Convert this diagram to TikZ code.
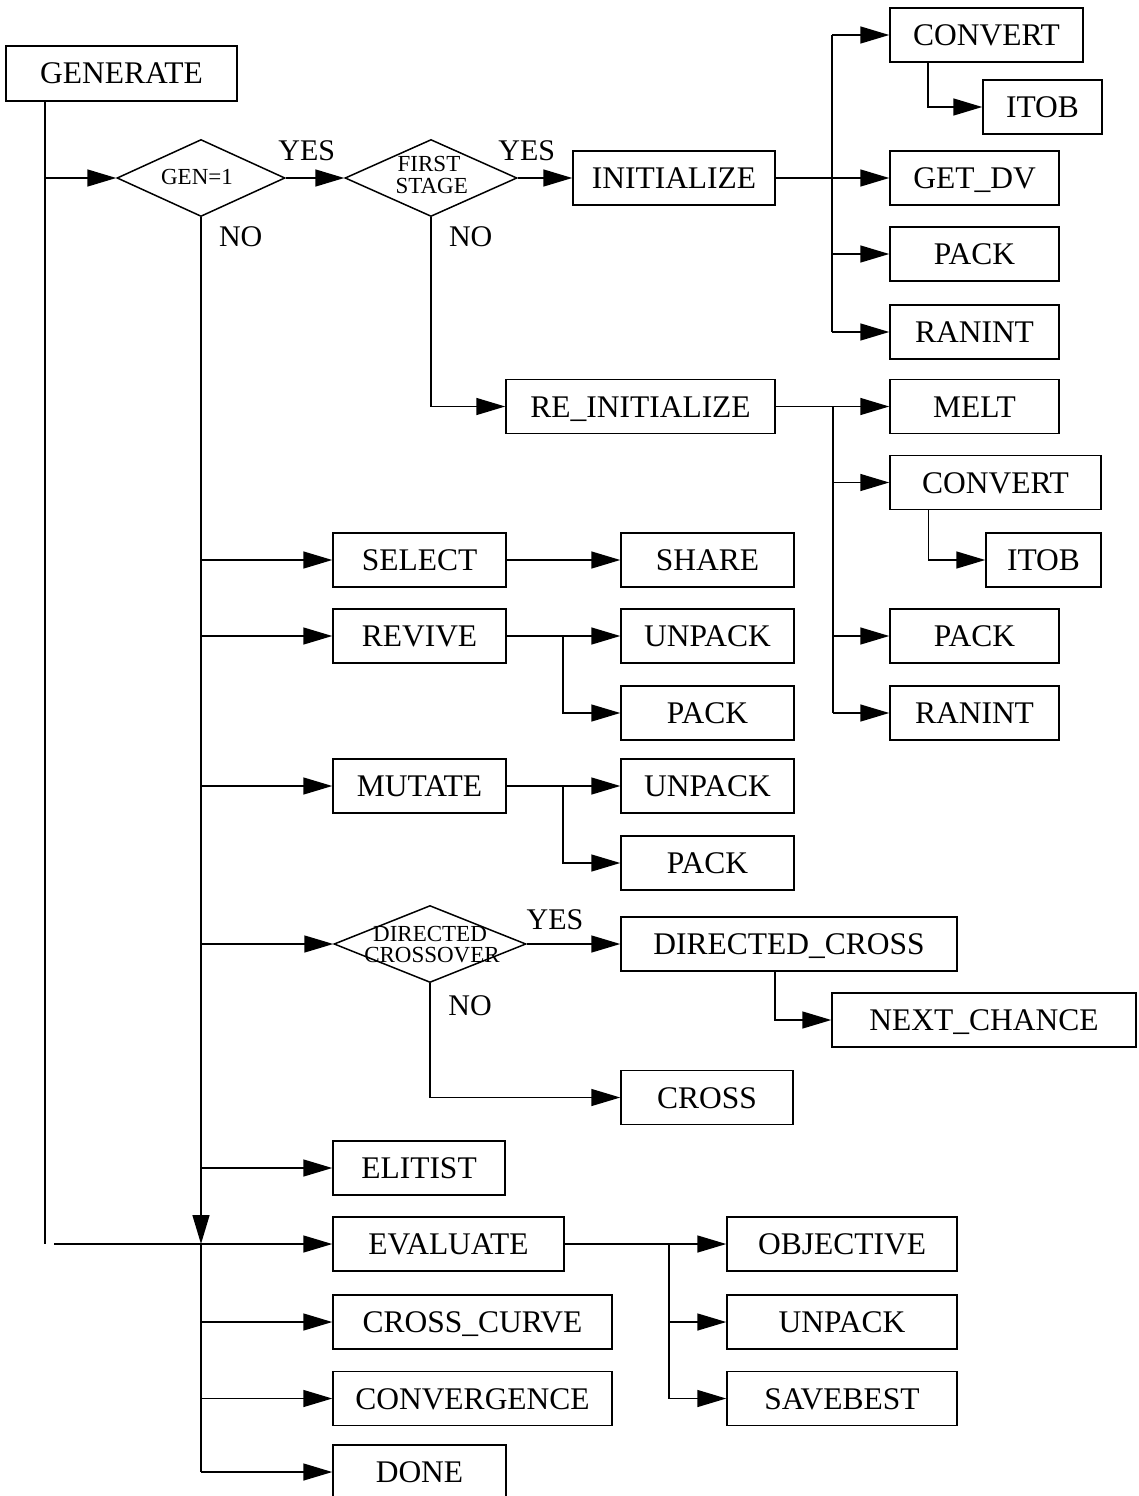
\documentclass[tikz,border=0pt]{standalone}
\usepackage{fontspec}
\setmainfont{Liberation Serif}
\usetikzlibrary{arrows.meta,shapes.geometric,calc}
\begin{document}
\begin{tikzpicture}[x=1pt,y=-1pt,
  line width=1.5pt,
  box/.style={draw, rectangle, inner sep=0pt, minimum height=54pt, font=\fontsize{31.5}{33}\selectfont, text height=21pt, text depth=0pt},
  dia/.style={draw, diamond, inner sep=0pt},
  lab/.style={font=\fontsize{30}{32}\selectfont, inner sep=0pt, text height=20pt, text depth=0pt},
  small/.style={font=\fontsize{23}{24}\selectfont, inner sep=0pt, anchor=base},
  arr/.style={-{Triangle[length=29pt,width=17pt]}}]
\useasboundingbox (0,0) rectangle (1138,1496);

% boxes
\node[box, minimum width=231pt, minimum height=55pt] (gen) at (121.5,73.5) {GENERATE};
\node[box, minimum width=202pt] (init) at (674,178) {INITIALIZE};
\node[box, minimum width=193pt] (conv1) at (986.5,35) {CONVERT};
\node[box, minimum width=119pt] (itob1) at (1042.5,107) {ITOB};
\node[box, minimum width=169pt] (getdv) at (974.5,178) {GET\_DV};
\node[box, minimum width=169pt] (pack1) at (974.5,254) {PACK};
\node[box, minimum width=169pt] (ranint1) at (974.5,332) {RANINT};
\node[box, minimum width=269pt] (reinit) at (640.5,406.5) {RE\_INITIALIZE};
\node[box, minimum width=169pt] (melt) at (974.5,406.5) {MELT};
\node[box, minimum width=211pt] (conv2) at (995.5,482.5) {CONVERT};
\node[box, minimum width=115pt] (itob2) at (1043.5,560) {ITOB};
\node[box, minimum width=169pt] (pack3) at (974.5,636) {PACK};
\node[box, minimum width=169pt] (ranint2) at (974.5,713) {RANINT};
\node[box, minimum width=173pt] (sel) at (419.5,560) {SELECT};
\node[box, minimum width=173pt] (share) at (707.5,560) {SHARE};
\node[box, minimum width=173pt] (rev) at (419.5,636) {REVIVE};
\node[box, minimum width=173pt] (unpack1) at (707.5,636) {UNPACK};
\node[box, minimum width=173pt] (pack2) at (707.5,713) {PACK};
\node[box, minimum width=173pt] (mut) at (419.5,786) {MUTATE};
\node[box, minimum width=173pt] (unpack2) at (707.5,786) {UNPACK};
\node[box, minimum width=173pt] (pack4) at (707.5,863) {PACK};
\node[box, minimum width=336pt] (dcross) at (789,944) {DIRECTED\_CROSS};
\node[box, minimum width=304pt] (next) at (984,1020) {NEXT\_CHANCE};
\node[box, minimum width=172pt] (cross) at (707,1097.5) {CROSS};
\node[box, minimum width=172pt] (elit) at (419,1168) {ELITIST};
\node[box, minimum width=231pt] (eval) at (448.5,1244) {EVALUATE};
\node[box, minimum width=279pt] (crc) at (472.5,1322) {CROSS\_CURVE};
\node[box, minimum width=279pt] (conv) at (472.5,1398.5) {CONVERGENCE};
\node[box, minimum width=173pt] (done) at (419.5,1472) {DONE};
\node[box, minimum width=230pt] (obj) at (842,1244) {OBJECTIVE};
\node[box, minimum width=230pt] (unpack3) at (842,1322) {UNPACK};
\node[box, minimum width=230pt] (savebest) at (842,1398.5) {SAVEBEST};

% diamonds
\node[dia, minimum width=168pt, minimum height=77pt] (d1) at (201,178) {};
\node[dia, minimum width=172pt, minimum height=77pt] (d2) at (431,178) {};
\node[dia, minimum width=192pt, minimum height=77pt] (d3) at (430,944) {};
\node[small] (t1) at (197,184) {GEN=1};
\node[small] (t2a) at (429,171.7) {FIRST};
\node[small] (t2b) at (431.7,193.3) {STAGE};
\node[small] (t3a) at (430,941.5) {DIRECTED};
\node[small] (t3b) at (432,962.5) {CROSSOVER};

% labels
\node[lab] (yes1) at (306.7,150.7) {YES};
\node[lab] (yes2) at (526.7,150.7) {YES};
\node[lab] (no1) at (240.7,236.7) {NO};
\node[lab] (no2) at (470.7,236.7) {NO};
\node[lab] (yes3) at (555,919) {YES};
\node[lab] (no3) at (470,1005) {NO};

% coordinates
\coordinate (gl) at (45,1244);
\coordinate (gs) at (54,1244);
\coordinate (b1) at (832,0);
\coordinate (b2) at (833,0);
\coordinate (c1) at (928,0);
\coordinate (c2) at (928.5,0);
\coordinate (rb) at (563,0);
\coordinate (eb) at (669,0);
\coordinate (c3) at (775,0);

% connectors
\draw (gen.south -| gl) -- (gl);
\draw[arr] (gs) -- (eval.west);
\draw[arr] (d1.west -| gl) -- (d1.west);
\draw[arr] (d1.east) -- (d2.west);
\draw[arr] (d2.east) -- (init.west);
\draw[arr] (init.east) -- (getdv.west);
\draw (conv1.west -| b1) -- (ranint1.west -| b1);
\draw[arr] (conv1.west -| b1) -- (conv1.west);
\draw[arr] (pack1.west -| b1) -- (pack1.west);
\draw[arr] (ranint1.west -| b1) -- (ranint1.west);
\draw[arr] (conv1.south -| c1) |- (itob1.west);

\draw[arr] (d1.south) -- (d1.south |- eval.west);
\draw (d1.south |- eval.west) -- (d1.south |- done.west);
\foreach \n in {sel,rev,mut,d3,elit,crc,conv,done}
  \draw[arr] (\n.west -| d1.south) -- (\n.west);

\draw[arr] (d2.south) |- (reinit.west);
\draw[arr] (reinit.east) -- (melt.west);
\draw (melt.west -| b2) -- (ranint2.west -| b2);
\draw[arr] (conv2.west -| b2) -- (conv2.west);
\draw[arr] (pack3.west -| b2) -- (pack3.west);
\draw[arr] (ranint2.west -| b2) -- (ranint2.west);
\draw[arr] (conv2.south -| c2) |- (itob2.west);

\draw[arr] (sel.east) -- (share.west);
\draw[arr] (rev.east) -- (unpack1.west);
\draw[arr] (rev.east -| rb) |- (pack2.west);
\draw[arr] (mut.east) -- (unpack2.west);
\draw[arr] (mut.east -| rb) |- (pack4.west);

\draw[arr] (d3.east) -- (dcross.west);
\draw[arr] (d3.south) |- (cross.west);
\draw[arr] (dcross.south -| c3) |- (next.west);

\draw[arr] (eval.east) -- (obj.west);
\draw[arr] (eval.east -| eb) |- (unpack3.west);
\draw[arr] (eval.east -| eb) |- (savebest.west);
\end{tikzpicture}
\end{document}
